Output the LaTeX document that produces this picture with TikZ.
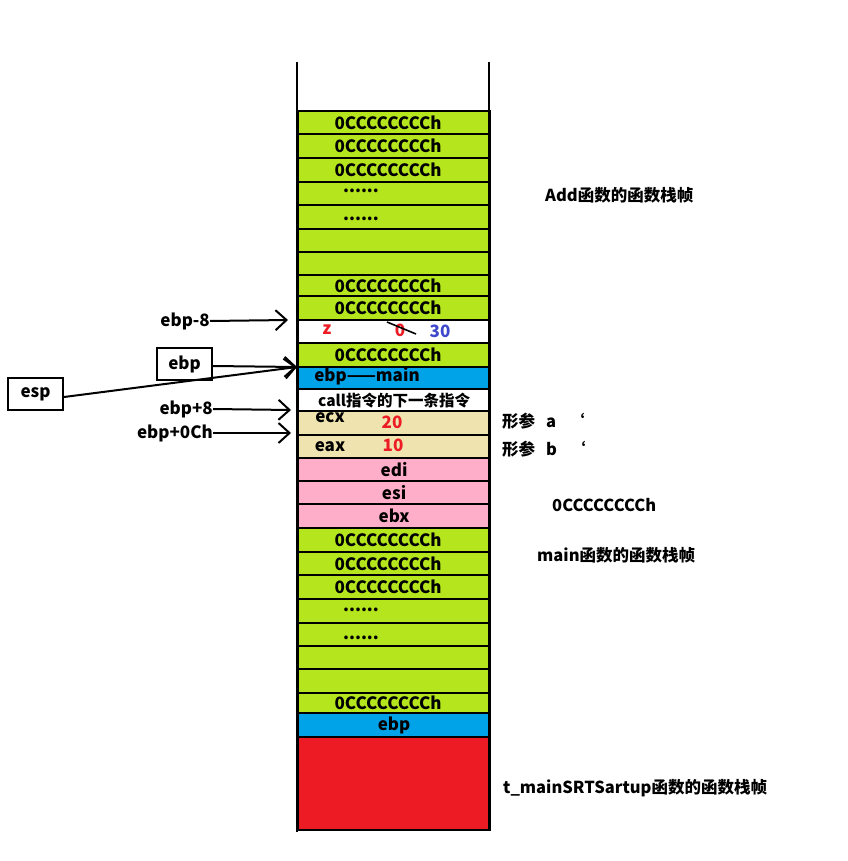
\documentclass[tikz,border=0pt]{standalone}
\usepackage{fontspec}
\setmainfont{Noto Sans CJK SC}
\usetikzlibrary{arrows.meta}
\definecolor{cLime}{HTML}{B5E61D}
\definecolor{cBlue}{HTML}{00A2E8}
\definecolor{cPink}{HTML}{FFAEC9}
\definecolor{cTan}{HTML}{EFE4B0}
\definecolor{cRed}{HTML}{ED1C24}
\definecolor{tRed}{HTML}{ED1C24}
\definecolor{tBlue}{HTML}{3F48CC}
\newcommand\srow[5]{\node[cell,fill=#4,minimum height={(#3-#2)*1pt}] (#1) at (297,#2) {#5};}
\newcommand\cval{\hspace*{-12pt}0CCCCCCCCh}
\tikzset{
  txt/.style={font=\bfseries\fontsize{17}{20}\selectfont, inner sep=0pt},
  cell/.style={draw=black, line width=2.2pt, minimum width=192pt, anchor=north west, inner sep=0pt, txt},
  side/.style={font=\bfseries\fontsize{16.5}{20}\selectfont, inner sep=0pt, anchor=west},
  dots/.style={txt, anchor=base, text height=3pt, text depth=0pt},
  ptr/.style={line width=2pt, -{Straight Barb[length=11pt,width=20pt,line width=2pt]}},
  tagbox/.style={draw=black, line width=2pt, minimum width=55pt, minimum height=32pt, txt}
}
\begin{document}
\begin{tikzpicture}[x=1pt,y=-1pt]
\useasboundingbox (0,0) rectangle (847,861);
\fill[white] (0,0) rectangle (847,861);
% stack rows
\srow{r1}{110}{133}{cLime}{\cval}
\srow{r2}{133}{157}{cLime}{\cval}
\srow{r3}{157}{181}{cLime}{\cval}
\srow{r4}{181}{204}{cLime}{}
\srow{r5}{204}{228}{cLime}{}
\srow{r6}{228}{251}{cLime}{}
\srow{r7}{251}{274}{cLime}{}
\srow{r8}{274}{295}{cLime}{\cval}
\srow{r9}{295}{319}{cLime}{\cval}
\srow{r10}{319}{342}{white}{}
\srow{r11}{342}{366}{cLime}{\cval}
\srow{r12}{366}{388}{cBlue}{}
\srow{r13}{388}{410}{white}{{\fontsize{15.5}{18}\selectfont call指令的下一条指令}}
\srow{r14}{410}{434}{cTan}{}
\srow{r15}{434}{457}{cTan}{}
\srow{r16}{457}{480}{cPink}{edi}
\srow{r17}{480}{503}{cPink}{esi}
\srow{r18}{503}{527}{cPink}{ebx}
\srow{r19}{527}{551}{cLime}{\cval}
\srow{r20}{551}{574}{cLime}{\cval}
\srow{r21}{574}{598}{cLime}{\cval}
\srow{r22}{598}{622}{cLime}{}
\srow{r23}{622}{645}{cLime}{}
\srow{r24}{645}{668}{cLime}{}
\srow{r25}{668}{692}{cLime}{}
\srow{r26}{692}{712}{cLime}{\cval}
\srow{r27}{712}{736}{cBlue}{ebp}
\srow{r28}{736}{829}{cRed}{}
% stack walls
\draw[line width=2pt] (297,62) -- (297,832);
\draw[line width=2pt] (489,62) -- (489,829);
% texts inside rows
\node[dots] (d1) at (361,193) {......};
\node[dots] (d2) at (361,220) {......};
\node[dots] (d3) at (361,611) {......};
\node[dots] (d4) at (361,639) {......};
\node[txt, text=tRed] (zv) at (327,330) {z};
\node[txt, text=tRed] (zo) at (400,330) {0};
\node[txt, text=tBlue] (zn) at (440,331) {30};
\coordinate (s1) at (387,322);
\coordinate (s2) at (416,334);
\draw[line width=1.6pt] (s1) -- (s2);
\node[txt] (em) at (367,376) {ebp——main};
\node[txt] (ecx) at (330,418) {ecx};
\node[txt, text=tRed] (v20) at (392,422) {20};
\node[txt] (eax) at (330,447) {eax};
\node[txt, text=tRed] (v10) at (393,445) {10};
% left labels and pointers
\node[txt, anchor=east] (lm8) at (210,321) {ebp-8};
\coordinate (t1) at (288,320);
\draw[ptr] (lm8.east) -- (t1);
\node[tagbox] (ebp) at (184.5,364) {ebp};
\node[tagbox] (esp) at (35.5,394) {esp};
\coordinate (t2) at (297,367);
\draw[ptr] (ebp.east |- 0,366) -- (t2);
\draw[ptr] (esp.east |- 0,397) -- (t2);
\node[txt, anchor=east] (lp8) at (213,409) {ebp+8};
\coordinate (t3) at (291,410);
\draw[ptr] (lp8.east) -- (t3);
\node[txt, anchor=east] (lpc) at (213,433) {ebp+0Ch};
\coordinate (t4) at (291,433);
\draw[ptr] (lpc.east) -- (t4);
% right labels
\node[side] (addf) at (545,195) {Add函数的函数栈帧};
\node[side] (pa) at (502,421) {形参\hspace{11pt}a\hspace{12pt}‘};
\node[side] (pb) at (502,449) {形参\hspace{11pt}b\hspace{12pt}‘};
\node[side] (cc) at (552,505) {0CCCCCCCCh};
\node[side] (mainf) at (537,555) {main函数的函数栈帧};
\node[side] (startf) at (503,788) {t\_mainSRTSartup函数的函数栈帧};
\end{tikzpicture}
\end{document}
